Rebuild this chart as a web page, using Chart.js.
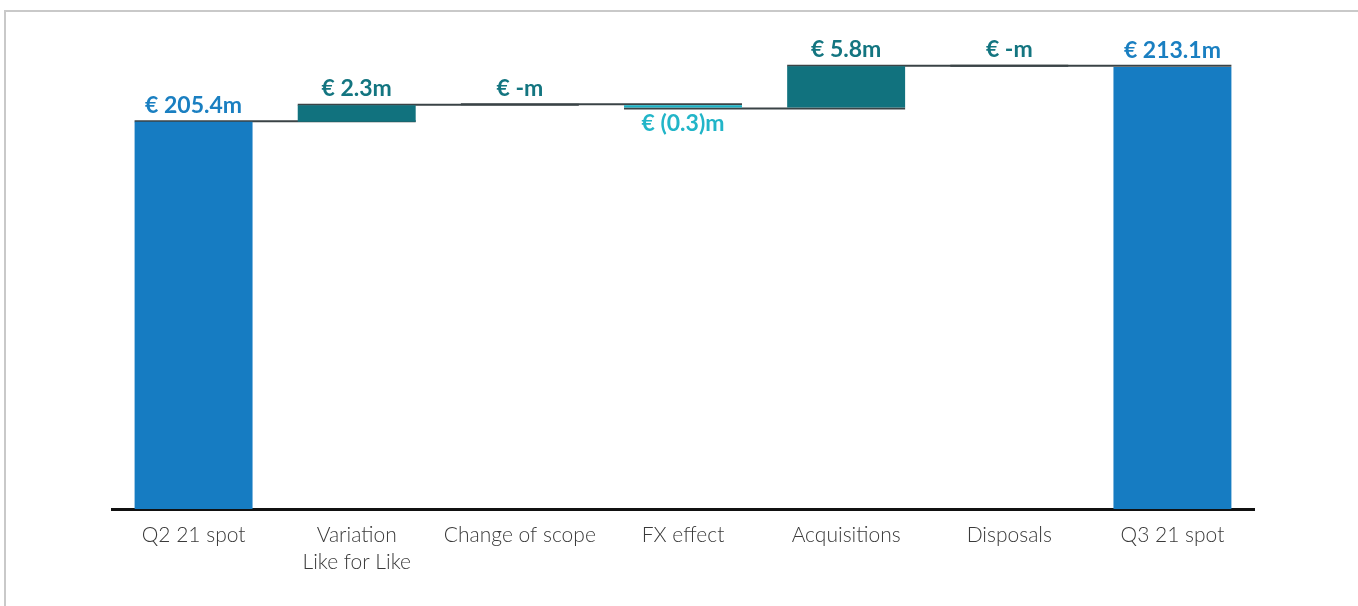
<!DOCTYPE html>
<html>
<head>
<meta charset="utf-8">
<script src="https://cdn.jsdelivr.net/npm/chart.js@4.4.1/dist/chart.umd.min.js"></script>
<style>
  html, body { margin: 0; padding: 0; background: #fff; overflow: hidden; }
  #frame { position: absolute; left: 4px; top: 10px; width: 1400px; height: 700px;
           border-top: 2px solid #c9c9c9; border-left: 2px solid #c9c9c9; }
  #c { position: absolute; left: 0; top: 0; }
</style>
</head>
<body>
<div id="frame"></div>
<canvas id="c" width="1358" height="606"></canvas>
<script>
const categories = ['Q2 21 spot', ['Variation', 'Like for Like'], 'Change of scope', 'FX effect', 'Acquisitions', 'Disposals', 'Q3 21 spot'];
const values = [205.4, 2.3, 0, -0.3, 5.8, 0, 213.1];
const kinds = ['total', 'delta', 'delta', 'delta', 'delta', 'delta', 'total'];
const yMin = 151;
const yMax = 218;

const colors = { total: '#167cc2', up: '#11727e', down: '#1ab3c6' };
const labelColors = { total: '#1a7fc1', up: '#137580', down: '#22b5c8' };

// cumulative levels
const levels = [];
let run = 0;
values.forEach((v, i) => {
  if (kinds[i] === 'total') run = v; else run = +(run + v).toFixed(2);
  levels.push(run);
});
const barData = values.map((v, i) => kinds[i] === 'total' ? v : [levels[i - 1], levels[i]]);
const kindOf = i => kinds[i] === 'total' ? 'total' : (values[i] < 0 ? 'down' : 'up');
const fmt = v => v === 0 ? '€ -m' : (v < 0 ? '€ (' + Math.abs(v).toFixed(1) + ')m' : '€ ' + v.toFixed(1) + 'm');

const waterfallPlugin = {
  id: 'waterfall',
  beforeDatasetsDraw(chart) {
    const ctx = chart.ctx;
    const meta = chart.getDatasetMeta(0);
    const ys = chart.scales.y;
    ctx.save();
    ctx.strokeStyle = '#3a4346';
    ctx.lineWidth = 2;
    for (let i = 0; i < values.length - 1; i++) {
      const a = meta.data[i], b = meta.data[i + 1];
      let y = ys.getPixelForValue(levels[i]);
      // sit the connector just outside the bar edge
      y = values[i + 1] < 0 ? y - 1 : (values[i] < 0 ? y + 1 : y - 0.5);
      ctx.beginPath();
      ctx.moveTo(a.x - a.width / 2, y);
      ctx.lineTo(b.x + b.width / 2, y);
      ctx.stroke();
    }
    ctx.restore();
  },
  afterDatasetsDraw(chart) {
    const ctx = chart.ctx;
    const meta = chart.getDatasetMeta(0);
    const ys = chart.scales.y;
    ctx.save();
    ctx.font = 'bold 23px Lato, "Open Sans", sans-serif';
    ctx.textAlign = 'center';
    ctx.textBaseline = 'alphabetic';
    values.forEach((v, i) => {
      const el = meta.data[i];
      const k = kindOf(i);
      ctx.fillStyle = labelColors[k];
      const y = v < 0 ? ys.getPixelForValue(levels[i]) + 24 : ys.getPixelForValue(levels[i]) - 9;
      ctx.fillText(fmt(v), el.x, y);
    });
    ctx.restore();
  }
};

new Chart(document.getElementById('c'), {
  type: 'bar',
  data: {
    labels: categories,
    datasets: [{
      data: barData,
      backgroundColor: values.map((v, i) => colors[kindOf(i)]),
      borderWidth: 0,
      categoryPercentage: 1,
      barPercentage: 0.723
    }]
  },
  options: {
    responsive: false,
    devicePixelRatio: 1,
    animation: false,
    layout: { padding: { left: 112, right: 104, top: 32, bottom: 0 } },
    plugins: { legend: { display: false }, tooltip: { enabled: false } },
    scales: {
      x: {
        grid: { display: true, drawOnChartArea: false, drawTicks: false, color: 'rgba(0,0,0,0)' },
        border: { display: true, color: '#111', width: 3 },
        ticks: {
          padding: 13,
          color: '#3a3a3a',
          font: { family: 'Lato, "Open Sans", sans-serif', size: 21, weight: 300, lineHeight: 1.29 },
          maxRotation: 0, autoSkip: false
        },
        afterFit(scale) { scale.height = 97; }
      },
      y: {
        display: false,
        min: yMin,
        max: yMax
      }
    }
  },
  plugins: [waterfallPlugin]
});
</script>
</body>
</html>
